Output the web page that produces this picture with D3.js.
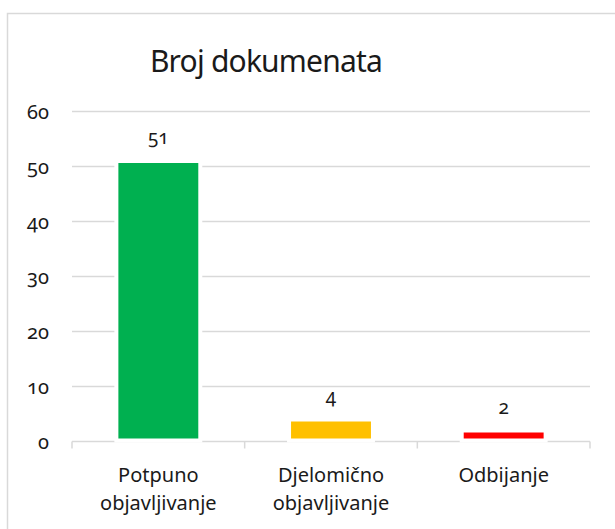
<!DOCTYPE html>
<html><head><meta charset="utf-8">
<script src="https://cdn.jsdelivr.net/npm/d3@7"></script>
<style>
html,body{margin:0;padding:0;background:#fff;}
svg text{font-family:"Noto Sans",sans-serif;font-variant-numeric:oldstyle-nums;fill:#1a1a1a;}
</style></head>
<body>
<svg id="c" width="615" height="529"></svg>
<script>
const title = "Broj dokumenata";
const categories = [["Potpuno","objavljivanje"],["Djelomično","objavljivanje"],["Odbijanje"]];
const values = [51, 4, 2];
const colors = ["#00B050", "#FFC000", "#FF0000"];
const yTicks = [0, 10, 20, 30, 40, 50, 60];

const svg = d3.select("#c");
// chart frame
svg.append("rect").attr("x", 7.5).attr("y", 13.5).attr("width", 640).attr("height", 540)
  .attr("fill", "#fff").attr("stroke", "#d9d9d9").attr("stroke-width", 1.5);

const m = {left: 72, right: 590, top: 111.5, bottom: 441.5};
const keys = categories.map(c => c.join(" "));
const x = d3.scaleBand().domain(keys).range([m.left, m.right]).padding(0);
const y = d3.scaleLinear().domain([0, 60]).range([m.bottom, m.top]);

// gridlines
svg.append("g").selectAll("line").data(yTicks.filter(d => d > 0)).join("line")
  .attr("x1", m.left).attr("x2", m.right)
  .attr("y1", d => y(d)).attr("y2", d => y(d))
  .attr("stroke", "#d9d9d9").attr("stroke-width", 1.5);

// y labels
svg.append("g").selectAll("text").data(yTicks).join("text")
  .attr("x", 49).attr("y", d => y(d)).attr("dy", "0.35em")
  .attr("text-anchor", "end").attr("font-size", 20).text(d => d);

// x axis line
svg.append("line").attr("x1", m.left).attr("x2", m.right).attr("y1", m.bottom).attr("y2", m.bottom)
  .attr("stroke", "#d9d9d9").attr("stroke-width", 1.5);
const tickXs = keys.map(k => x(k)).concat([m.right]);
svg.append("g").selectAll("line").data(tickXs).join("line")
  .attr("x1", d => d).attr("x2", d => d).attr("y1", m.bottom).attr("y2", m.bottom + 7)
  .attr("stroke", "#d9d9d9").attr("stroke-width", 1.5);

// bars (white outline like the original)
const barW = x.bandwidth() * 0.486;
svg.append("g").selectAll("rect").data(values).join("rect")
  .attr("x", (d, i) => x(keys[i]) + (x.bandwidth() - barW) / 2)
  .attr("width", barW)
  .attr("y", d => y(d)).attr("height", d => y(0) - y(d) - 1)
  .attr("fill", (d, i) => colors[i])
  .attr("stroke", "#fff").attr("stroke-width", 4);

// value labels
svg.append("g").selectAll("text").data(values).join("text")
  .attr("x", (d, i) => x(keys[i]) + x.bandwidth() / 2)
  .attr("y", d => y(d) - 17)
  .attr("text-anchor", "middle").attr("font-size", 19).text(d => d);

// category labels
const cl = svg.append("g").selectAll("text").data(categories).join("text")
  .attr("text-anchor", "middle").attr("font-size", 20)
  .attr("transform", (d, i) => `translate(${x(keys[i]) + x.bandwidth() / 2},${475})`);
cl.selectAll("tspan").data(d => d).join("tspan")
  .attr("x", 0).attr("y", (d, j) => j * 28).attr("dy", "0.35em").text(d => d);

// title
svg.append("text").attr("x", 266).attr("y", 61).attr("dy", "0.35em")
  .attr("text-anchor", "middle").attr("font-size", 30).attr("letter-spacing", -0.8).text(title);
</script>
</body></html>
